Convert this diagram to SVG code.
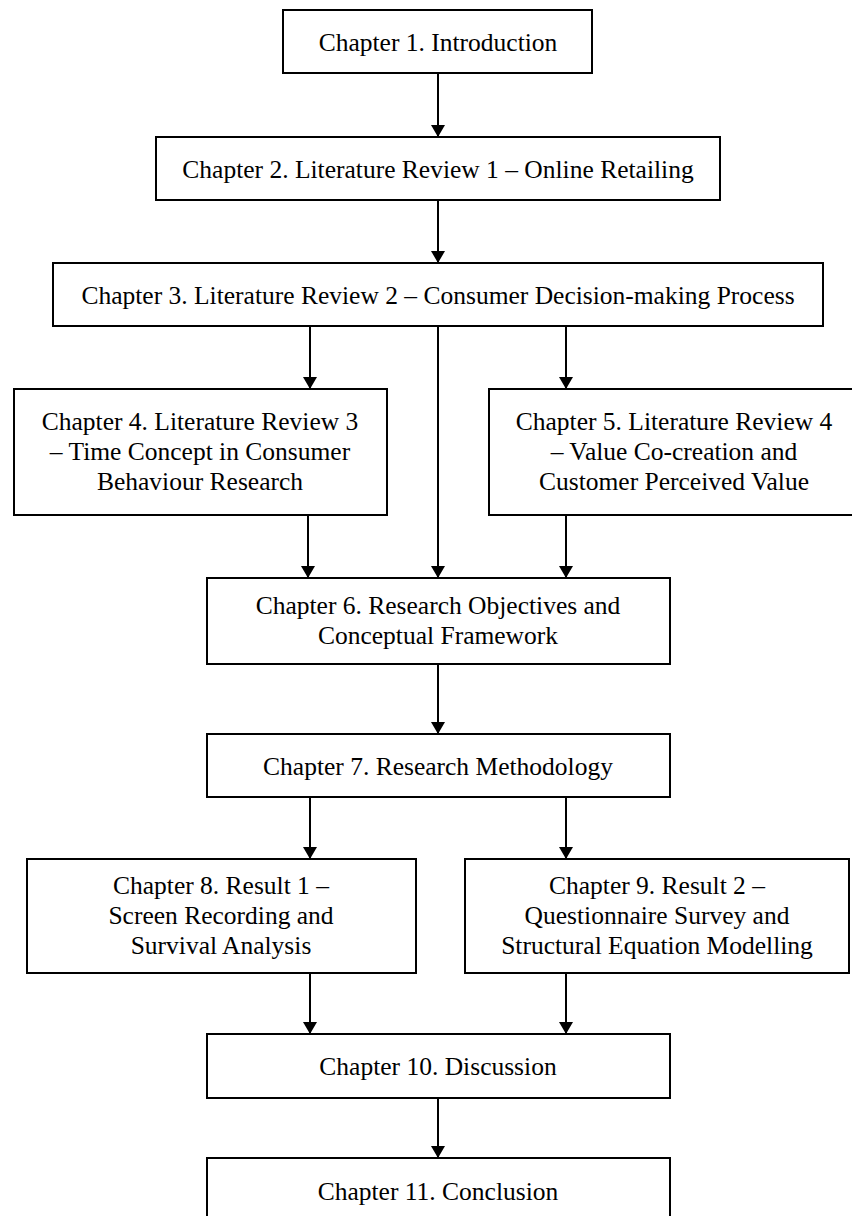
<svg xmlns="http://www.w3.org/2000/svg" width="852" height="1216" viewBox="0 0 852 1216">
  <style>
    .box { fill: #fff; stroke: #000; stroke-width: 2; }
    .lbl { font-family: "Liberation Serif", "Times New Roman", serif; font-size: 25.5px; fill: #000; text-anchor: middle; }
    .edge { stroke: #000; stroke-width: 2; fill: none; marker-end: url(#arrow); }
  </style>
  <defs>
    <marker id="arrow" viewBox="0 0 12 14" refX="12" refY="7" markerWidth="12" markerHeight="14" markerUnits="userSpaceOnUse" orient="auto">
      <path d="M0,0 L12,7 L0,14 Z" fill="#000"/>
    </marker>
  </defs>
  <rect width="852" height="1216" fill="#fff"/>

  <g id="connectors">
    <line class="edge" x1="438" y1="73" x2="438" y2="137"/>
    <line class="edge" x1="438" y1="200" x2="438" y2="263"/>
    <line class="edge" x1="310" y1="326" x2="310" y2="389"/>
    <line class="edge" x1="566" y1="326" x2="566" y2="389"/>
    <line class="edge" x1="438" y1="326" x2="438" y2="578"/>
    <line class="edge" x1="308" y1="515" x2="308" y2="578"/>
    <line class="edge" x1="566" y1="515" x2="566" y2="578"/>
    <line class="edge" x1="438" y1="664" x2="438" y2="734"/>
    <line class="edge" x1="310" y1="797" x2="310" y2="859"/>
    <line class="edge" x1="566" y1="797" x2="566" y2="859"/>
    <line class="edge" x1="310" y1="973" x2="310" y2="1034"/>
    <line class="edge" x1="566" y1="973" x2="566" y2="1034"/>
    <line class="edge" x1="438" y1="1098" x2="438" y2="1158"/>
  </g>

  <g id="ch1">
    <rect class="box" x="283" y="10" width="309" height="63"/>
    <text class="lbl" x="438" y="51">Chapter 1. Introduction</text>
  </g>
  <g id="ch2">
    <rect class="box" x="156" y="137" width="564" height="63"/>
    <text class="lbl" x="438" y="178">Chapter 2. Literature Review 1 – Online Retailing</text>
  </g>
  <g id="ch3">
    <rect class="box" x="53" y="263" width="770" height="63"/>
    <text class="lbl" x="438" y="304">Chapter 3. Literature Review 2 – Consumer Decision-making Process</text>
  </g>
  <g id="ch4">
    <rect class="box" x="14" y="389" width="373" height="126"/>
    <text class="lbl" x="200" y="430">Chapter 4. Literature Review 3</text>
    <text class="lbl" x="200" y="460">– Time Concept in Consumer</text>
    <text class="lbl" x="200" y="490">Behaviour Research</text>
  </g>
  <g id="ch5">
    <rect class="box" x="489" y="389" width="370" height="126"/>
    <text class="lbl" x="674" y="430">Chapter 5. Literature Review 4</text>
    <text class="lbl" x="674" y="460">– Value Co-creation and</text>
    <text class="lbl" x="674" y="490">Customer Perceived Value</text>
  </g>
  <g id="ch6">
    <rect class="box" x="207" y="578" width="463" height="86"/>
    <text class="lbl" x="438" y="614">Chapter 6. Research Objectives and</text>
    <text class="lbl" x="438" y="644">Conceptual Framework</text>
  </g>
  <g id="ch7">
    <rect class="box" x="207" y="734" width="463" height="63"/>
    <text class="lbl" x="438" y="775">Chapter 7. Research Methodology</text>
  </g>
  <g id="ch8">
    <rect class="box" x="27" y="859" width="389" height="114"/>
    <text class="lbl" x="221" y="894">Chapter 8. Result 1 –</text>
    <text class="lbl" x="221" y="924">Screen Recording and</text>
    <text class="lbl" x="221" y="954">Survival Analysis</text>
  </g>
  <g id="ch9">
    <rect class="box" x="465" y="859" width="384" height="114"/>
    <text class="lbl" x="657" y="894">Chapter 9. Result 2 –</text>
    <text class="lbl" x="657" y="924">Questionnaire Survey and</text>
    <text class="lbl" x="657" y="954">Structural Equation Modelling</text>
  </g>
  <g id="ch10">
    <rect class="box" x="207" y="1034" width="463" height="64"/>
    <text class="lbl" x="438" y="1075">Chapter 10. Discussion</text>
  </g>
  <g id="ch11">
    <rect class="box" x="207" y="1158" width="463" height="70"/>
    <text class="lbl" x="438" y="1200">Chapter 11. Conclusion</text>
  </g>
</svg>
